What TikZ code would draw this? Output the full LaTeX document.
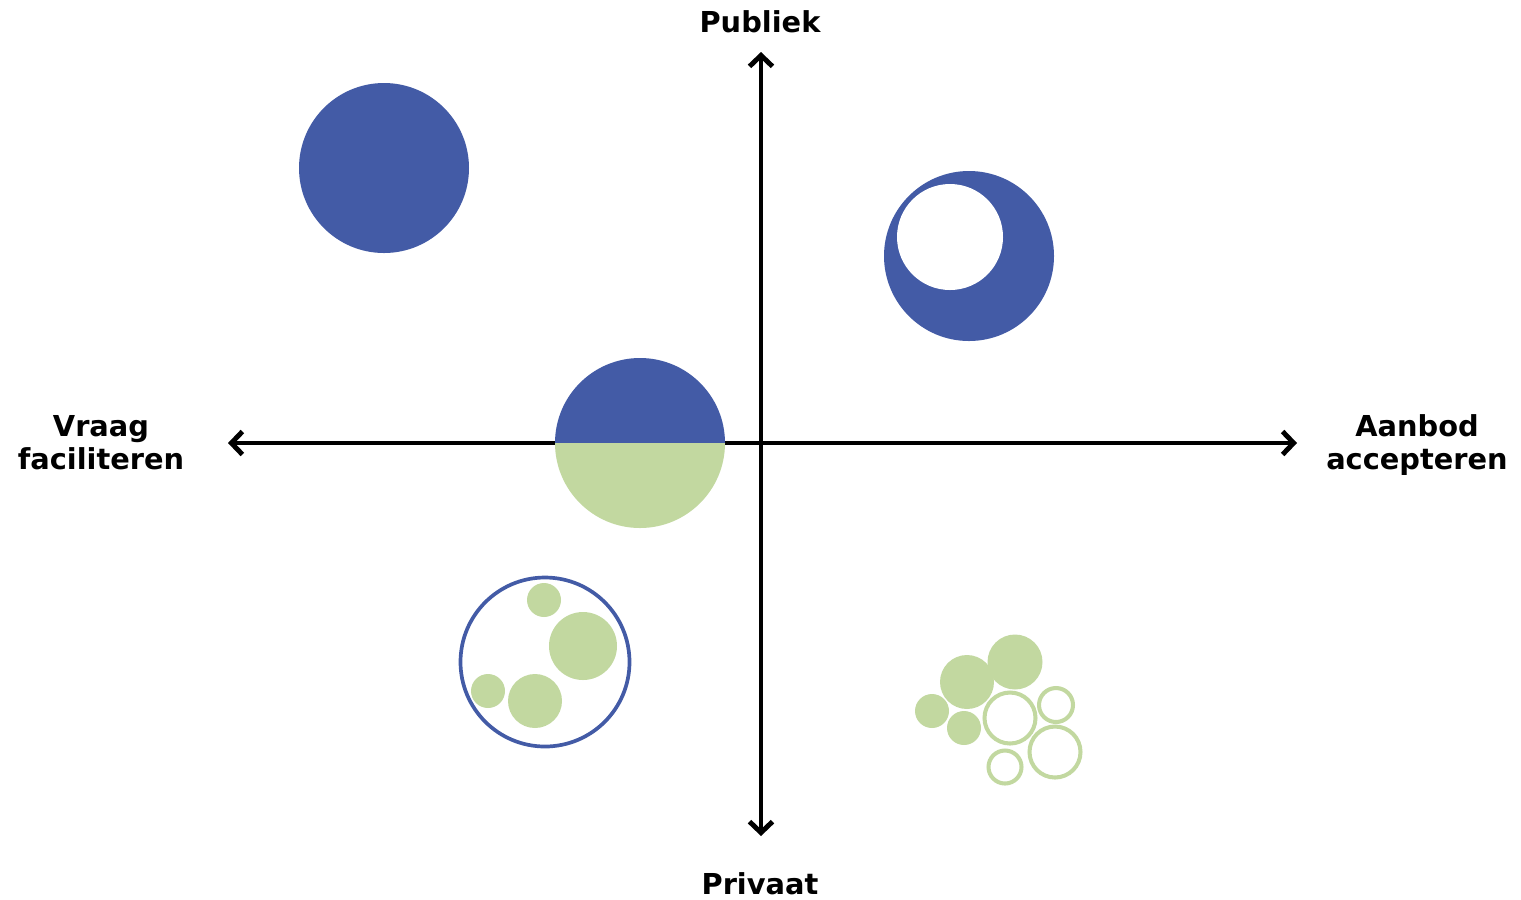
\documentclass[tikz,border=0pt]{standalone}
\usepackage{fontspec}
\setmainfont{DejaVu Sans}
\usetikzlibrary{arrows.meta}
\tikzset{>={Straight Barb[length=1.1mm,width=2.3mm,line width=1.4pt]}}
\colorlet{penColor}{black}
\definecolor{dotBlue}{RGB}{67,91,166}
\definecolor{dotGreen}{RGB}{194,216,160}
\tikzset{
  axislabel/.style={font=\fontsize{8.2}{9.3}\selectfont\bfseries, align=center, penColor},
  ring/.style={draw=dotGreen, line width=1.15pt}
}
\begin{document}
\begin{tikzpicture}[x=0.01cm, y=0.01cm]
\useasboundingbox (0,0) rectangle (1521,-899);
% axes
\coordinate (up) at (761,-52);
\coordinate (down) at (761,-836);
\coordinate (west) at (228,-443);
\coordinate (east) at (1297,-443);
\draw[<->, penColor, line width=0.9pt] (west) -- (east);
\draw[<->, penColor, line width=0.9pt] (down) -- (up);
\node [axislabel] (publiek) at (760,-22) {Publiek};
\node [axislabel] (privaat) at (760,-884) {Privaat};
\node [axislabel] (vraag) at (101,-443) {Vraag\\faciliteren};
\node [axislabel] (aanbod) at (1417,-445) {Aanbod\\accepteren};
% top left
\fill [dotBlue] (384,-168) circle [radius=85];
% top right
\fill [dotBlue] (969,-256) circle [radius=85];
\fill [white] (950,-237) circle [radius=53];
% centre, half and half
\fill [dotBlue] (555,-443) arc [start angle=180, end angle=0, radius=85] -- cycle;
\fill [dotGreen] (555,-443) arc [start angle=180, end angle=360, radius=85] -- cycle;
% bottom left
\draw [dotBlue, line width=1.05pt] (545,-662) circle [radius=84.5];
\fill [dotGreen] (544,-600) circle [radius=17];
\fill [dotGreen] (583,-646) circle [radius=34];
\fill [dotGreen] (488,-691) circle [radius=17];
\fill [dotGreen] (535,-701) circle [radius=27];
% bottom right
\fill [dotGreen] (1015,-662) circle [radius=27.5];
\fill [dotGreen] (967,-682) circle [radius=27];
\fill [dotGreen] (932,-711) circle [radius=17];
\fill [dotGreen] (964,-728) circle [radius=17];
\draw [ring] (1010,-718) circle [radius=25.5];
\draw [ring] (1056,-705) circle [radius=17];
\draw [ring] (1055,-752) circle [radius=25.5];
\draw [ring] (1005,-767) circle [radius=16.5];
\end{tikzpicture}
\end{document}
